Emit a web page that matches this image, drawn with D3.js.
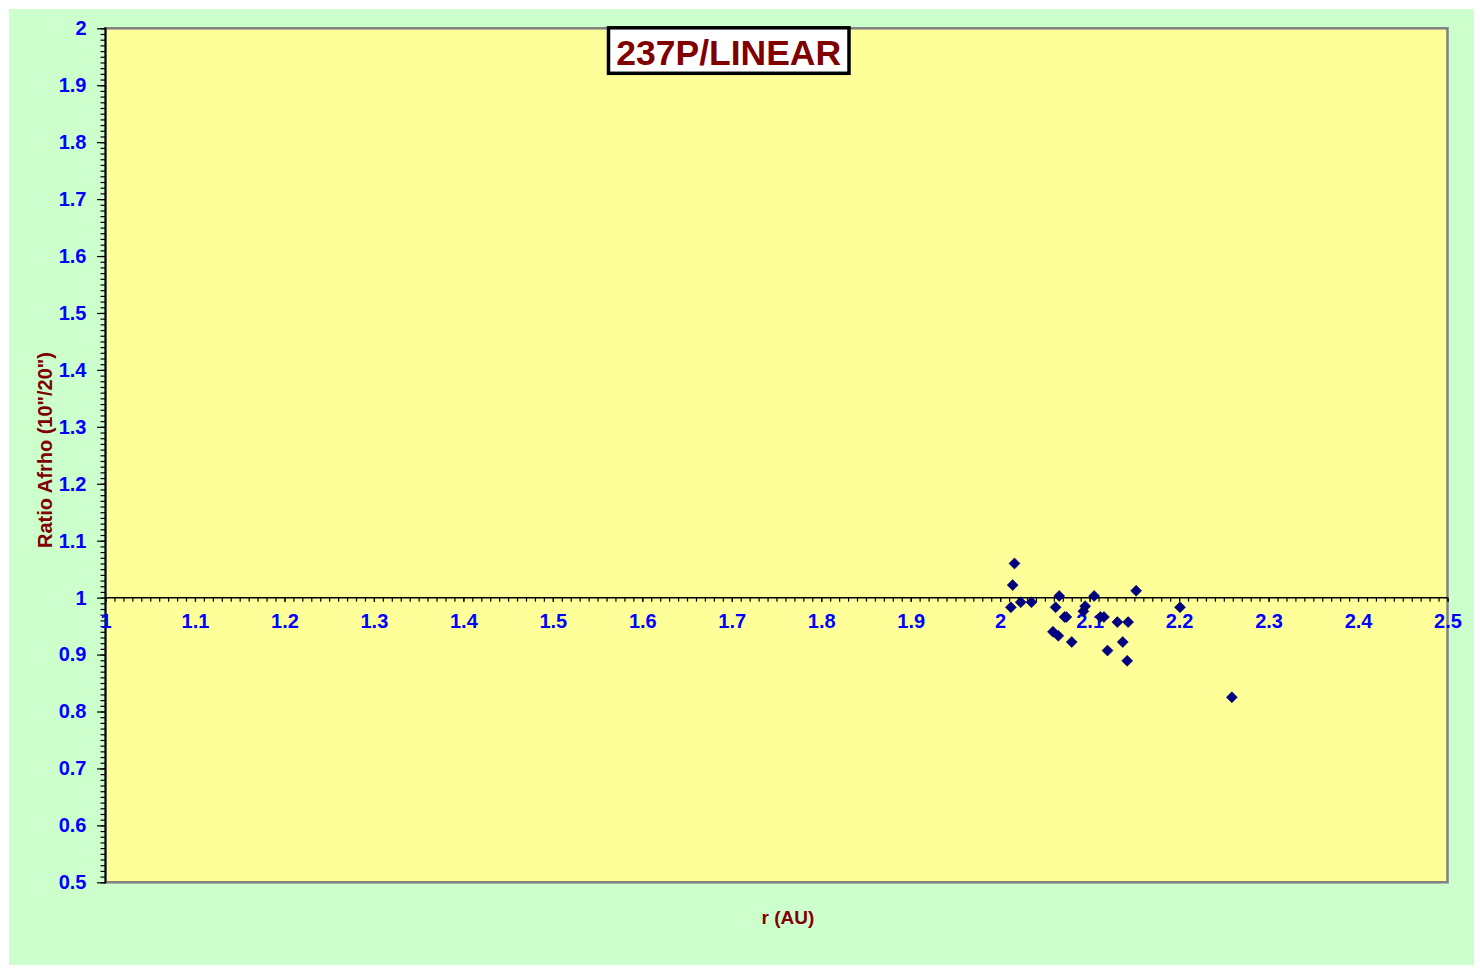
<!DOCTYPE html>
<html>
<head>
<meta charset="utf-8">
<script src="https://cdn.jsdelivr.net/npm/d3@7"></script>
<style>
  html, body { margin: 0; padding: 0; background: #ffffff; }
  svg { display: block; }
</style>
</head>
<body>
<svg id="chart" width="1480" height="973"></svg>
<script>
// ---- data ----
const title = "237P/LINEAR";
const xTitle = "r (AU)";
const yTitle = "Ratio Afrho (10\"/20\")";
const rValues = [2.016, 2.014, 2.012, 2.023, 2.035, 2.062, 2.066, 2.072, 2.074, 2.059,
                 2.065, 2.080, 2.095, 2.093, 2.105, 2.112, 2.116, 2.120, 2.131, 2.143,
                 2.137, 2.142, 2.152, 2.201, 2.259];
const ratioValues = [1.060, 1.022, 0.983, 0.992, 0.992, 0.983, 1.003, 0.966, 0.966, 0.940,
                     0.933, 0.922, 0.985, 0.976, 1.003, 0.966, 0.966, 0.907, 0.957, 0.957,
                     0.922, 0.889, 1.012, 0.983, 0.825];
const xTickLabels = ["1","1.1","1.2","1.3","1.4","1.5","1.6","1.7","1.8","1.9","2","2.1","2.2","2.3","2.4","2.5"];
const yTickLabels = ["0.5","0.6","0.7","0.8","0.9","1","1.1","1.2","1.3","1.4","1.5","1.6","1.7","1.8","1.9","2"];
const xDomain = [1, 2.5];
const yDomain = [0.5, 2];

// ---- layout ----
const svg = d3.select("#chart");
const font = "'Liberation Sans', Arial, sans-serif";
const plot = {left: 105.5, right: 1447.5, top: 28.3, bottom: 882.3};

const x = d3.scaleLinear().domain(xDomain).range([plot.left, plot.right]);
const y = d3.scaleLinear().domain(yDomain).range([plot.bottom, plot.top]);

// outer green background
svg.append("rect").attr("x", 9).attr("y", 9).attr("width", 1465).attr("height", 956)
  .attr("fill", "#CCFFCC");

// plot area
svg.append("rect")
  .attr("x", plot.left).attr("y", plot.top)
  .attr("width", plot.right - plot.left).attr("height", plot.bottom - plot.top)
  .attr("fill", "#FFFF99").attr("stroke", "#808080").attr("stroke-width", 2.5);

// minor tick values
const yMinor = d3.range(0, 151).map(i => +(0.5 + i * 0.01).toFixed(2));
const xMinor = d3.range(0, 151).map(i => +(1 + i * 0.01).toFixed(2));

// y axis minor ticks
const yMinorAxis = d3.axisLeft(y).tickValues(yMinor).tickSize(5).tickFormat("");
const gyMinor = svg.append("g").attr("transform", `translate(${plot.left},0)`).call(yMinorAxis);
gyMinor.select(".domain").remove();
gyMinor.selectAll("line").attr("stroke", "#000").attr("stroke-width", 1.2);

// y axis major ticks & labels
const yMajorAxis = d3.axisLeft(y).tickValues(yTickLabels.map(Number)).tickSize(8.5).tickPadding(10.5)
  .tickFormat((d, i) => yTickLabels[i]);
const gy = svg.append("g").attr("transform", `translate(${plot.left},0)`).call(yMajorAxis);
gy.select(".domain").remove();
gy.selectAll("line").attr("stroke", "#000").attr("stroke-width", 1.2);
gy.selectAll("text").attr("fill", "#0000FF").style("font-family", font)
  .style("font-size", "20px").style("font-weight", "bold");

// y axis line
svg.append("line").attr("x1", plot.left).attr("x2", plot.left)
  .attr("y1", plot.top - 1).attr("y2", plot.bottom + 1)
  .attr("stroke", "#000").attr("stroke-width", 1.8);

// x axis at y = 1
const xMinorAxis = d3.axisBottom(x).tickValues(xMinor).tickSize(4).tickFormat("");
const gxMinor = svg.append("g").attr("transform", `translate(0,${y(1)})`).call(xMinorAxis);
gxMinor.select(".domain").remove();
gxMinor.selectAll("line").attr("stroke", "#000").attr("stroke-width", 1.2);

const xMajorAxis = d3.axisBottom(x).tickValues(xTickLabels.map(Number)).tickSize(4).tickPadding(12.5)
  .tickFormat((d, i) => xTickLabels[i]);
const gx = svg.append("g").attr("transform", `translate(0,${y(1)})`).call(xMajorAxis);
gx.select(".domain").remove();
gx.selectAll("line").attr("stroke", "#000").attr("stroke-width", 1.2);
gx.selectAll("text").attr("fill", "#0000FF").style("font-family", font)
  .style("font-size", "20px").style("font-weight", "bold");

svg.append("line").attr("x1", plot.left).attr("x2", plot.right)
  .attr("y1", y(1)).attr("y2", y(1))
  .attr("stroke", "#000").attr("stroke-width", 1.5);

// data points (diamonds)
const pts = rValues.map((r, i) => ({r, v: ratioValues[i]}));
const h = 5.5;
svg.append("g").selectAll("path").data(pts).join("path")
  .attr("d", d => {
    const cx = x(d.r), cy = y(d.v);
    return `M${cx},${cy - h}L${cx + h},${cy}L${cx},${cy + h}L${cx - h},${cy}Z`;
  })
  .attr("fill", "#000080").attr("stroke", "#000060").attr("stroke-width", 0.6);

// title box
svg.append("rect").attr("x", 608.5).attr("y", 27.8).attr("width", 240.5).attr("height", 45.5)
  .attr("fill", "#FFFFFF").attr("stroke", "#000").attr("stroke-width", 3.5);
svg.append("text").attr("x", 728.7).attr("y", 64.5).attr("text-anchor", "middle")
  .attr("fill", "#800000").style("font-family", font).style("font-size", "35.5px")
  .style("font-weight", "bold").text(title);

// axis titles
svg.append("text").attr("x", 788).attr("y", 924).attr("text-anchor", "middle")
  .attr("fill", "#800000").style("font-family", font).style("font-size", "19px")
  .style("font-weight", "bold").text(xTitle);

svg.append("text").attr("transform", "translate(52,450) rotate(-90)").attr("text-anchor", "middle")
  .attr("fill", "#800000").style("font-family", font).style("font-size", "20px")
  .style("font-weight", "bold").text(yTitle);
</script>
</body>
</html>
